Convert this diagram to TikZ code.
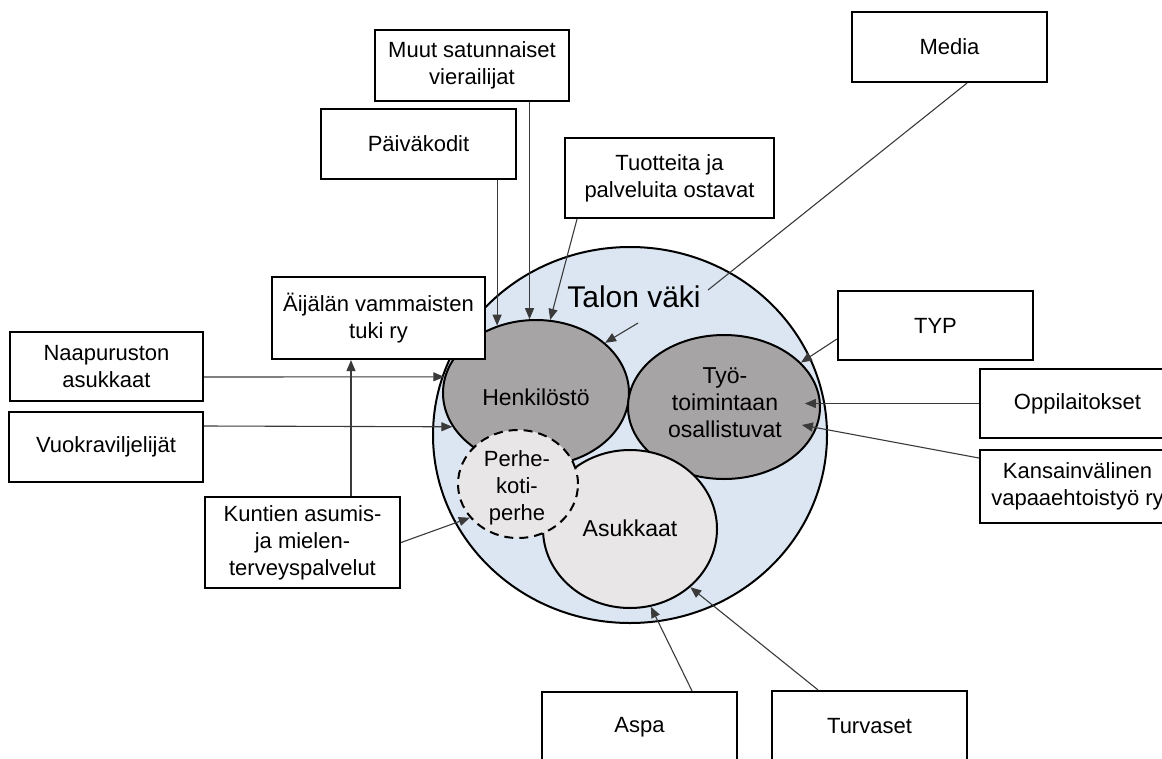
\documentclass[tikz,border=0pt]{standalone}
\usepackage{fontspec}
\setmainfont{Liberation Sans}
\usetikzlibrary{arrows.meta,shapes.geometric}
\definecolor{outerblue}{HTML}{DCE6F2}
\definecolor{darkfill}{HTML}{A6A4A4}
\definecolor{lightfill}{HTML}{E8E6E6}
\definecolor{linegray}{HTML}{3A3A3A}
\begin{document}
\begin{tikzpicture}[x=1pt,y=-1pt,
  boxnode/.style={draw=black, line width=2.2pt, fill=white, inner sep=0pt, align=center, font=\fontsize{22}{27}\selectfont},
  blob/.style={ellipse, draw=black, line width=2pt, inner sep=0pt},
  inlabel/.style={align=center, font=\fontsize{23}{27}\selectfont},
  conn/.style={draw=linegray, line width=1.1pt},
  arrowline/.style={conn, -{Triangle[length=11pt,width=9pt]}}]

\useasboundingbox (0,0) rectangle (1162,758);
\clip (0,0) rectangle (1162,758);

% circles
\node[blob, fill=outerblue, minimum width=394pt, minimum height=376pt] (talon) at (630,435) {};
\node[blob, fill=darkfill, minimum width=186pt, minimum height=146pt] (henk) at (536,393) {};
\node[blob, fill=darkfill, minimum width=192pt, minimum height=144pt] (tyo) at (724,407) {};
\node[blob, fill=lightfill, minimum width=174pt, minimum height=158pt] (asuk) at (630,529) {};
\node[blob, fill=lightfill, dash pattern=on 9pt off 6pt, minimum width=120pt, minimum height=108pt] (perhe) at (518,484) {};

% labels inside
\node[font=\fontsize{30}{34}\selectfont] (talonlabel) at (634,297) {Talon väki};
\node[inlabel] (henklabel) at (536,397) {Henkilöstö};
\node[inlabel] (tyolabel) at (725,403) {Työ-\\toimintaan\\osallistuvat};
\node[inlabel] (asuklabel) at (630,528) {Asukkaat};
\node[inlabel, font=\fontsize{22}{26.7}\selectfont] (perhelabel) at (517,488) {Perhe-\\koti-\\perhe};

% boxes
\node[boxnode, minimum width=194pt, minimum height=71pt] (muut) at (472,65.5) {Muut satunnaiset\\vierailijat};
\node[boxnode, minimum width=195pt, minimum height=70pt] (paiv) at (418.5,144) {Päiväkodit};
\node[boxnode, minimum width=209pt, minimum height=80pt] (tuot) at (669.5,178) {Tuotteita ja\\palveluita ostavat};
\node[boxnode, minimum width=195pt, minimum height=70pt] (media) at (949.5,47) {Media};
\node[boxnode, minimum width=213pt, minimum height=82pt] (aij) at (378.5,318) {Äijälän vammaisten\\tuki ry};
\node[boxnode, minimum width=193pt, minimum height=69pt] (naap) at (106.5,366.5) {Naapuruston\\asukkaat};
\node[boxnode, minimum width=194pt, minimum height=70pt] (vuok) at (106,447) {Vuokraviljelijät};
\node[boxnode, minimum width=195pt, minimum height=91pt] (kunt) at (302.5,542.5) {Kuntien asumis-\\ja mielen-\\terveyspalvelut};
\node[boxnode, minimum width=195pt, minimum height=69pt] (typ) at (935.5,325.5) {TYP};
\node[boxnode, minimum width=195pt, minimum height=69pt] (oppi) at (1077.5,403.5) {Oppilaitokset};
\node[boxnode, minimum width=195pt, minimum height=73pt] (kans) at (1077.5,486.5) {Kansainvälinen\\vapaaehtoistyö ry};
\node[boxnode, minimum width=195pt, minimum height=70pt] (aspa) at (639.5,727) {Aspa};
\node[boxnode, minimum width=195pt, minimum height=70pt] (turv) at (869.5,726) {Turvaset};

% connectors
\coordinate (tvfrom) at (638,323);
\coordinate (mediaend) at (708,290);
\draw[arrowline] (paiv.south -| henk.120) -- (henk.120);
\draw[arrowline] (muut.south -| henk.95) -- (henk.95);
\draw[arrowline] ([xshift=-92.5pt]tuot.south) -- (henk.79);
\draw[arrowline] (tvfrom) -- (henk.36);
\draw[conn] ([xshift=17.5pt]media.south) -- (mediaend);
\draw[arrowline] ([yshift=-10.5pt]naap.east) -- (henk.170);
\draw[arrowline] ([yshift=21pt]vuok.east) -- (henk.202);
\draw[arrowline] (kunt.east) -- (perhe.215);
\draw[arrowline] ([xshift=48.5pt]kunt.north) -- ([xshift=-27.5pt]aij.south);
\draw[arrowline] ([yshift=-13.5pt]typ.west) -- (tyo.30);
\draw[arrowline] (oppi.west) -- ++(-174,0);
\draw[arrowline] ([yshift=28.5pt]kans.west) -- ++(-177,-33);
\draw[arrowline] ([xshift=52.5pt]aspa.north) -- (asuk.285);
\draw[arrowline] ([xshift=-51.5pt]turv.north) -- (asuk.316);
\end{tikzpicture}
\end{document}
